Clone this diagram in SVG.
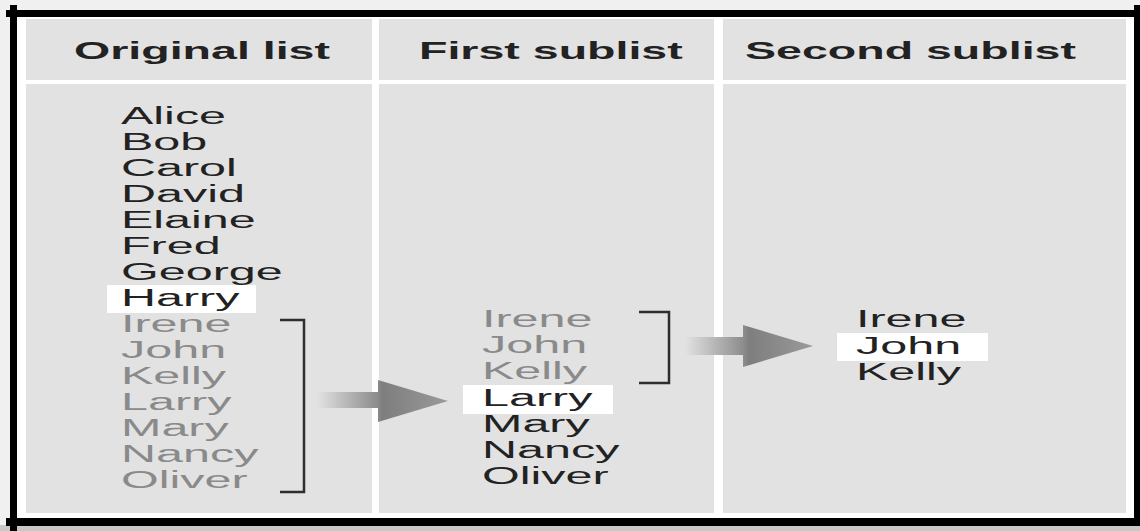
<svg xmlns="http://www.w3.org/2000/svg" width="1140" height="531" viewBox="0 0 1140 531">
<style>
.panel{fill:#e2e2e2}
.hdr{font-family:"Liberation Sans",Arial,sans-serif;font-weight:bold;font-size:24px;fill:#222}
.nm{font-family:"Liberation Sans",Arial,sans-serif;font-size:24px;fill:#222}
.dim{fill:#8a8a8a}
.hl{fill:#ffffff}
.br{fill:none;stroke:#2e2e2e;stroke-width:2.5}
.frame{fill:#000}
</style>
<defs>
<linearGradient id="ag" x1="0" y1="0" x2="1" y2="0">
<stop offset="0" stop-color="#e2e2e2"/>
<stop offset="0.46" stop-color="#8c8c8c"/>
<stop offset="0.5" stop-color="#7e7e7e"/>
<stop offset="1" stop-color="#9a9a9a"/>
</linearGradient>
</defs>
<rect x="0" y="0" width="1140" height="531" fill="#f0f0f0"/>
<rect x="16" y="16" width="1119" height="503" fill="#ffffff"/>
<rect x="0" y="525" width="1140" height="6" fill="#c8c8c8"/>
<g id="frame">
<rect class="frame" x="6" y="10" width="1129" height="7"/>
<rect class="frame" x="10" y="5" width="7" height="526"/>
<rect class="frame" x="6" y="518" width="1134" height="8"/>
<rect class="frame" x="1134" y="5" width="6" height="521"/>
</g>
<g id="col-original">
<rect class="panel" x="26" y="19" width="346" height="61"/>
<rect class="panel" x="26" y="84" width="346" height="429"/>
<text class="hdr" transform="translate(74,59) scale(1.94,1)">Original list</text>
<rect class="hl" x="107" y="285" width="149" height="28"/>
<text class="nm" transform="translate(121,124) scale(2.02,1)">Alice</text>
<text class="nm" transform="translate(121,150) scale(2.02,1)">Bob</text>
<text class="nm" transform="translate(121,176) scale(2.02,1)">Carol</text>
<text class="nm" transform="translate(121,202) scale(2.02,1)">David</text>
<text class="nm" transform="translate(121,228) scale(2.02,1)">Elaine</text>
<text class="nm" transform="translate(121,254) scale(2.02,1)">Fred</text>
<text class="nm" transform="translate(121,280) scale(2.02,1)">George</text>
<text class="nm" transform="translate(121,306) scale(2.02,1)">Harry</text>
<text class="nm dim" transform="translate(121,332) scale(2.02,1)">Irene</text>
<text class="nm dim" transform="translate(121,358) scale(2.02,1)">John</text>
<text class="nm dim" transform="translate(121,384) scale(2.02,1)">Kelly</text>
<text class="nm dim" transform="translate(121,410) scale(2.02,1)">Larry</text>
<text class="nm dim" transform="translate(121,436) scale(2.02,1)">Mary</text>
<text class="nm dim" transform="translate(121,462) scale(2.02,1)">Nancy</text>
<text class="nm dim" transform="translate(121,488) scale(2.02,1)">Oliver</text>
</g>
<g id="col-first">
<rect class="panel" x="379" y="19" width="335" height="61"/>
<rect class="panel" x="379" y="84" width="335" height="429"/>
<text class="hdr" transform="translate(419,59) scale(1.94,1)">First sublist</text>
<rect class="hl" x="463" y="385" width="150" height="29"/>
<text class="nm dim" transform="translate(482,327) scale(2.02,1)">Irene</text>
<text class="nm dim" transform="translate(482,353) scale(2.02,1)">John</text>
<text class="nm dim" transform="translate(482,379) scale(2.02,1)">Kelly</text>
<text class="nm" transform="translate(482,406) scale(2.02,1)">Larry</text>
<text class="nm" transform="translate(482,432) scale(2.02,1)">Mary</text>
<text class="nm" transform="translate(482,458) scale(2.02,1)">Nancy</text>
<text class="nm" transform="translate(482,484) scale(2.02,1)">Oliver</text>
</g>
<g id="col-second">
<rect class="panel" x="723" y="19" width="403" height="61"/>
<rect class="panel" x="723" y="84" width="403" height="429"/>
<text class="hdr" transform="translate(745,59) scale(1.94,1)">Second sublist</text>
<rect class="hl" x="837" y="333" width="151" height="28"/>
<text class="nm" transform="translate(856,327) scale(2.02,1)">Irene</text>
<text class="nm" transform="translate(856,354) scale(2.02,1)">John</text>
<text class="nm" transform="translate(856,380) scale(2.02,1)">Kelly</text>
</g>
<g id="connectors">
<path class="br" d="M280,320 H304 V492 H280"/>
<path class="br" d="M639,312 H669 V383 H639"/>
<path fill="url(#ag)" d="M317,392 H378 V380 L448,401 L378,422 V408 H317 Z"/>
<path fill="url(#ag)" d="M685,337 H743 V325 L813,346 L743,367 V355 H685 Z"/>
</g>
</svg>
